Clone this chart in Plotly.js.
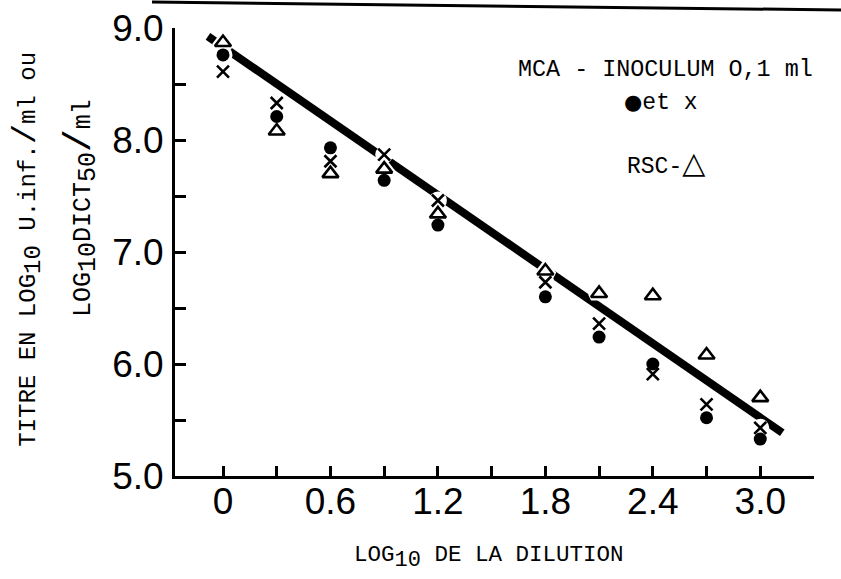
<!DOCTYPE html>
<html><head><meta charset="utf-8">
<script src="https://cdn.plot.ly/plotly-3.0.1.min.js"></script>
<style>html,body{margin:0;padding:0;background:#fff}</style>
</head><body>
<div id="chart" style="width:841px;height:579px"></div>
<script>
// Data
const dilution     = [0, 0.3, 0.6, 0.9, 1.2, 1.8, 2.1, 2.4, 2.7, 3.0];
const mcaDots      = [8.76, 8.21, 7.93, 7.64, 7.24, 6.60, 6.24, 6.00, 5.52, 5.33];
const mcaCrosses   = [8.61, 8.33, 7.81, 7.87, 7.46, 6.73, 6.36, 5.91, 5.64, 5.43];
const rscTriangles = [8.87, 8.08, 7.70, 7.74, 7.34, 6.83, 6.63, 6.61, 6.08, 5.70];
const fitX = [-0.084, 3.123];
const fitY = [8.925, 5.386];

const xTickVals = [0, 0.6, 1.2, 1.8, 2.4, 3.0];
const xTickText = ['0', '0.6', '1.2', '1.8', '2.4', '3.0'];
const yTickVals = [5, 6, 7, 8, 9];
const yTickText = ['5.0', '6.0', '7.0', '8.0', '9.0'];

const mono = 'Liberation Mono, Courier New, monospace';
const sans = 'Liberation Sans, Arial, sans-serif';
const sub = (t, s) => '<sub><span style="font-size:' + s + 'px">' + t + '</span></sub>';

const traces = [
  {x: fitX, y: fitY, mode: 'lines', line: {color: '#000', width: 8}, hoverinfo: 'skip'},
  // white halos that break the regression line around the symbols
  {x: dilution, y: mcaDots, mode: 'markers', marker: {symbol: 'circle', size: 13, color: '#fff', line: {color: '#fff', width: 6}}},
  {x: dilution, y: mcaCrosses, mode: 'markers', marker: {symbol: 'circle', size: 15, color: '#fff', line: {color: '#fff', width: 3}}},
  {x: dilution, y: rscTriangles, mode: 'markers', marker: {symbol: 'triangle-up', size: 14, color: '#fff', line: {color: '#fff', width: 7}}},
  // symbols
  {x: dilution, y: mcaDots, mode: 'markers', marker: {symbol: 'circle', size: 13, color: '#000', line: {width: 0}}},
  {x: dilution, y: mcaCrosses, mode: 'markers', marker: {symbol: 'x-thin-open', size: 12, color: '#000', line: {color: '#000', width: 2.6}}},
  {x: dilution, y: rscTriangles, mode: 'markers', marker: {symbol: 'triangle-up-open', size: 14, color: '#000', line: {color: '#000', width: 2.6}}}
];

const layout = {
  width: 841, height: 579,
  margin: {l: 175, r: 27, t: 28, b: 103},
  paper_bgcolor: '#fff', plot_bgcolor: '#fff',
  showlegend: false,
  xaxis: {
    range: [-0.268, 3.3], tickmode: 'array', tickvals: xTickVals, ticktext: xTickText,
    ticks: 'inside', ticklen: 10, tickwidth: 3, tickcolor: '#000',
    minor: {ticks: 'inside', ticklen: 10, tickwidth: 3, tickcolor: '#000', tick0: 0, dtick: 0.3, showgrid: false},
    showline: true, linewidth: 3, linecolor: '#000',
    showgrid: false, zeroline: false, ticklabelstandoff: -9,
    tickfont: {family: sans, size: 37, color: '#000'}
  },
  yaxis: {
    range: [5, 9], tickmode: 'array', tickvals: yTickVals, ticktext: yTickText,
    ticks: 'inside', ticklen: 11, tickwidth: 3, tickcolor: '#000',
    minor: {ticks: 'inside', ticklen: 11, tickwidth: 3, tickcolor: '#000', tick0: 5, dtick: 0.5, showgrid: false},
    showline: true, linewidth: 3, linecolor: '#000',
    showgrid: false, zeroline: false, ticklabelstandoff: 1,
    tickfont: {family: sans, size: 37, color: '#000'}
  },
  shapes: [
    {type: 'line', xref: 'paper', yref: 'paper', x0: -0.036, x1: 1.05, y0: 1.058, y1: 1.04,
     line: {color: '#000', width: 3}}
  ],
  annotations: [
    {xref: 'paper', yref: 'paper', x: 0.767, y: 0.906, xanchor: 'center', yanchor: 'middle', showarrow: false,
     text: 'MCA - INOCULUM O,1 ml', font: {family: mono, size: 23.4, color: '#000'}},
    {xref: 'paper', yref: 'paper', x: 0.761, y: 0.833, xanchor: 'center', yanchor: 'middle', showarrow: false,
     text: '<span style="font-family:DejaVu Sans;font-size:21px">●</span>et x', font: {family: mono, size: 23, color: '#000'}},
    {xref: 'paper', yref: 'paper', x: 0.768, y: 0.699, xanchor: 'center', yanchor: 'middle', showarrow: false,
     text: 'RSC-<span style="font-family:DejaVu Sans;font-size:30px">△</span>', font: {family: mono, size: 23, color: '#000'}},
    {xref: 'paper', yref: 'paper', x: 0.49, y: -0.181, xanchor: 'center', yanchor: 'middle', showarrow: false,
     text: 'LOG' + sub('10', 22) + ' DE LA DILUTION', font: {family: mono, size: 22.5, color: '#000'}},
    {xref: 'paper', yref: 'paper', x: 0, xshift: -148, y: 0.505, xanchor: 'center', yanchor: 'middle', showarrow: false,
     textangle: -90,
     text: 'TITRE EN LOG' + sub('10', 24) + ' U.inf.<span style="font-size:34px">/</span>ml ou', font: {family: mono, size: 24, color: '#000'}},
    {xref: 'paper', yref: 'paper', x: 0, xshift: -95, y: 0.598, xanchor: 'center', yanchor: 'middle', showarrow: false,
     textangle: -90,
     text: 'LOG' + sub('10', 25) + 'DICT' + sub('50', 25) + '<span style="font-size:38px">/</span>ml', font: {family: mono, size: 25, color: '#000'}}
  ]
};

Plotly.newPlot('chart', traces, layout, {displayModeBar: false, staticPlot: true});
</script>
</body></html>
